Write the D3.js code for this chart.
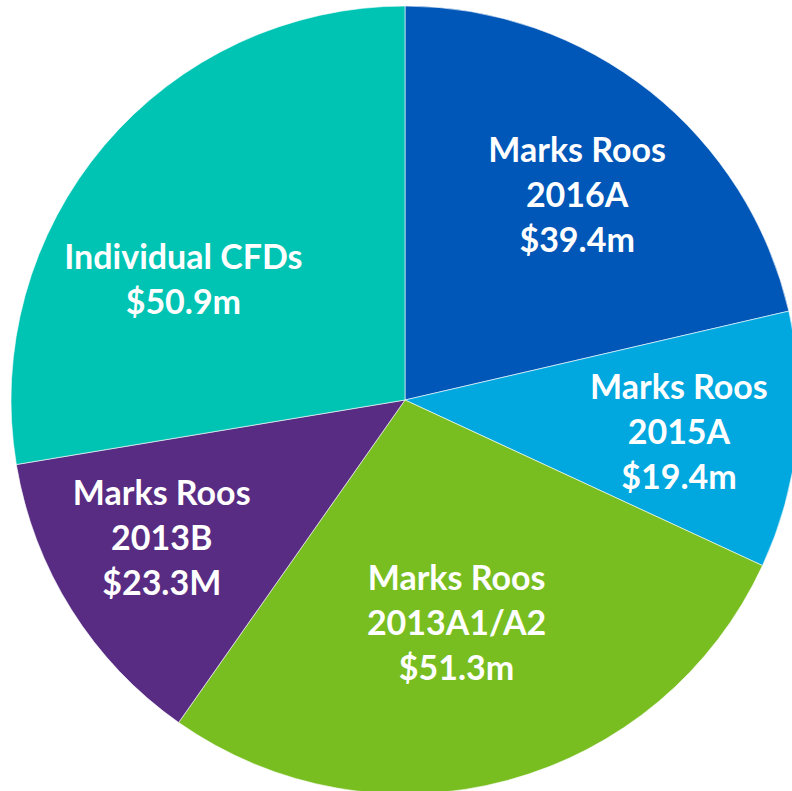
<!DOCTYPE html>
<html>
<head>
<meta charset="utf-8">
<script src="https://cdn.jsdelivr.net/npm/d3@7"></script>
<style>
  html, body { margin: 0; padding: 0; background: #fff; }
  svg { display: block; }
  .lbl { font-family: Lato, "Open Sans", sans-serif; font-weight: 700; fill: #fff; }
</style>
</head>
<body>
<svg id="svg" width="792" height="791"></svg>
<script>
// funding sources pie, clockwise from 12 o'clock
const names  = ["Marks Roos|2016A", "Marks Roos|2015A", "Marks Roos|2013A1/A2", "Marks Roos|2013B", "Individual CFDs"];
const values = [39.4, 19.4, 51.3, 23.3, 50.9];
const amounts = ["$39.4m", "$19.4m", "$51.3m", "$23.3M", "$50.9m"];
const colors = ["#0057b8", "#00a8df", "#78be21", "#582c83", "#00c4b3"];

// label placement tweaks: [angle shift in degrees, radius as fraction of R]
const LABEL_POS = [[1.5, 0.68], [0.7, 0.70], [2, 0.58], [2.6, 0.71], [-11.8, 0.64]];

const W = 792, H = 791;
const cx = 405, cy = 400, R = 394;

const data = names.map((n, i) => ({ name: n, value: values[i], amount: amounts[i], color: colors[i], i }));

const pie = d3.pie().value(d => d.value).sort(null);
const arc = d3.arc().innerRadius(0).outerRadius(R);

const svg = d3.select("#svg");
const g = svg.append("g").attr("transform", `translate(${cx},${cy})`);

const arcs = pie(data);

g.selectAll("path")
  .data(arcs).enter().append("path")
  .attr("d", arc)
  .attr("fill", d => d.data.color)
  .attr("stroke", "#fff")
  .attr("stroke-width", 1)
  .attr("stroke-opacity", 0.6);

const fs = 34, lh = 45;
arcs.forEach(a => {
  const [shift, frac] = LABEL_POS[a.data.i];
  const ang = (a.startAngle + a.endAngle) / 2 + shift * Math.PI / 180;
  const r = frac * R;
  const x = Math.sin(ang) * r, y = -Math.cos(ang) * r;
  const lines = a.data.name.split("|").concat([a.data.amount]);
  const t = g.append("text").attr("class", "lbl")
    .attr("text-anchor", "middle")
    .attr("font-size", fs)
    .attr("x", x).attr("y", y);
  const y0 = -(lines.length - 1) / 2 * lh;
  lines.forEach((ln, k) => {
    t.append("tspan").attr("x", x).attr("y", y + y0 + k * lh)
      .attr("dy", "0.35em").text(ln);
  });
});
</script>
</body>
</html>
